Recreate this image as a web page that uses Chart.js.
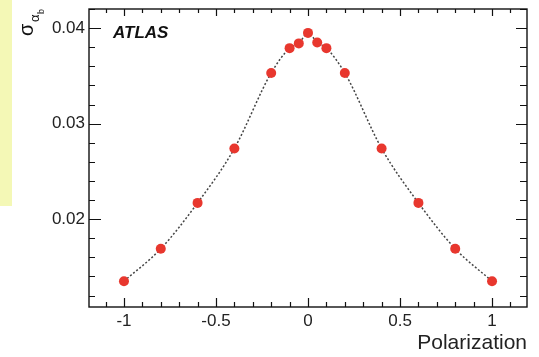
<!DOCTYPE html>
<html>
<head>
<meta charset="utf-8">
<script src="https://cdn.jsdelivr.net/npm/chart.js@4/dist/chart.umd.min.js"></script>
<style>
  html, body { margin: 0; padding: 0; background: #ffffff; }
  #wrap { width: 539px; height: 357px; position: relative; }
</style>
</head>
<body>
<div id="wrap"><canvas id="c" width="539" height="357"></canvas></div>
<script>
// ---- Data ----
const polarization = [-1, -0.8, -0.6, -0.4, -0.2, -0.1, -0.05, 0, 0.05, 0.1, 0.2, 0.4, 0.6, 0.8, 1];
const sigmaAlphaB  = [0.0135, 0.0169, 0.0217, 0.0274, 0.0353, 0.0379, 0.0384, 0.0395, 0.0385, 0.0379, 0.0353, 0.0274, 0.0217, 0.0169, 0.0135];
const xTickValues  = [-1, -0.5, 0, 0.5, 1];
const yTickValues  = [0.02, 0.03, 0.04];
const xTitle = 'Polarization';
const experimentLabel = 'ATLAS';

const FONT = '"Liberation Sans", Arial, Helvetica, sans-serif';

const points = polarization.map((x, i) => ({ x: x, y: sigmaAlphaB[i] }));

const decorPlugin = {
  id: 'decor',
  beforeDraw(chart) {
    const ctx = chart.ctx;
    ctx.save();
    ctx.fillStyle = '#ffffff';
    ctx.fillRect(0, 0, chart.width, chart.height);
    ctx.fillStyle = '#f4f8b6';
    ctx.fillRect(0, 0, 12, 206);
    ctx.restore();
  },
  afterDraw(chart) {
    const ctx = chart.ctx;
    const a = chart.chartArea;
    const xs = chart.scales.x, ys = chart.scales.y;
    ctx.save();
    ctx.strokeStyle = '#111';
    ctx.lineWidth = 1.4;
    // frame
    ctx.strokeRect(a.left, a.top, a.right - a.left, a.bottom - a.top);
    ctx.lineWidth = 1.2;
    ctx.beginPath();
    // x ticks (inside, bottom & top)
    for (let k = Math.ceil(xs.min * 10); k <= Math.floor(xs.max * 10); k++) {
      const v = k / 10;
      const px = Math.round(xs.getPixelForValue(v)) + 0.5;
      const major = (k % 5 === 0);
      const lb = major ? 9 : 5, lt = major ? 7 : 4;
      ctx.moveTo(px, a.bottom); ctx.lineTo(px, a.bottom - lb);
      ctx.moveTo(px, a.top); ctx.lineTo(px, a.top + lt);
    }
    // y ticks (inside, left & right)
    for (let k = Math.ceil(ys.min * 500 - 1e-6); k <= Math.floor(ys.max * 500 + 1e-6); k++) {
      const v = k / 500;
      const py = Math.round(ys.getPixelForValue(v)) + 0.5;
      const major = (k % 5 === 0);
      const ll = major ? 12 : 6, lr = major ? 11 : 7;
      ctx.moveTo(a.left, py); ctx.lineTo(a.left + ll, py);
      ctx.moveTo(a.right, py); ctx.lineTo(a.right - lr, py);
    }
    ctx.stroke();

    // ATLAS label
    ctx.fillStyle = '#111';
    ctx.font = 'italic bold 17px ' + FONT;
    ctx.textAlign = 'left';
    ctx.textBaseline = 'alphabetic';
    ctx.fillText(experimentLabel, 113, 38);

    // y-axis title: sigma with subscript alpha_b, rotated
    ctx.translate(33, 36);
    ctx.rotate(-Math.PI / 2);
    ctx.fillStyle = '#111';
    ctx.font = '20px ' + FONT;
    ctx.fillText('σ', 0, 0);
    ctx.font = '13px ' + FONT;
    ctx.fillText('α', 14, 6);
    ctx.font = '9px ' + FONT;
    ctx.fillText('b', 22, 11);
    ctx.restore();
  }
};

new Chart(document.getElementById('c'), {
  type: 'line',
  data: {
    datasets: [{
      data: points,
      showLine: true,
      borderColor: '#444',
      borderWidth: 1.5,
      borderDash: [2, 2],
      cubicInterpolationMode: 'monotone',
      pointRadius: 5,
      pointHoverRadius: 5,
      pointBackgroundColor: '#e8372e',
      pointBorderWidth: 0,
      fill: false
    }]
  },
  options: {
    responsive: false,
    animation: false,
    events: [],
    layout: { padding: { top: 9, right: 12, left: 0, bottom: 0 } },
    plugins: { legend: { display: false }, tooltip: { enabled: false } },
    scales: {
      x: {
        type: 'linear',
        min: -1.19,
        max: 1.19,
        afterBuildTicks: s => { s.ticks = xTickValues.map(v => ({ value: v })); },
        afterFit: s => { s.height = 50; s.paddingLeft = 0; s.paddingRight = 0; },
        grid: { display: false, drawTicks: false },
        border: { display: false },
        ticks: {
          autoSkip: false, maxRotation: 0, padding: 4,
          color: '#222',
          font: { family: FONT, size: 17 },
          callback: v => String(v)
        },
        title: {
          display: true, text: xTitle, align: 'end',
          color: '#222',
          font: { family: FONT, size: 21 },
          padding: { top: 0, bottom: 1 }
        }
      },
      y: {
        type: 'linear',
        min: 0.0108,
        max: 0.042,
        afterBuildTicks: s => { s.ticks = yTickValues.map(v => ({ value: v })); },
        afterFit: s => { s.width = 89; s.paddingTop = 0; s.paddingBottom = 0; },
        grid: { display: false, drawTicks: false },
        border: { display: false },
        ticks: {
          autoSkip: false, padding: 4,
          color: '#222',
          font: { family: FONT, size: 17 },
          callback: v => v.toFixed(2)
        }
      }
    }
  },
  plugins: [decorPlugin]
});
</script>
</body>
</html>
